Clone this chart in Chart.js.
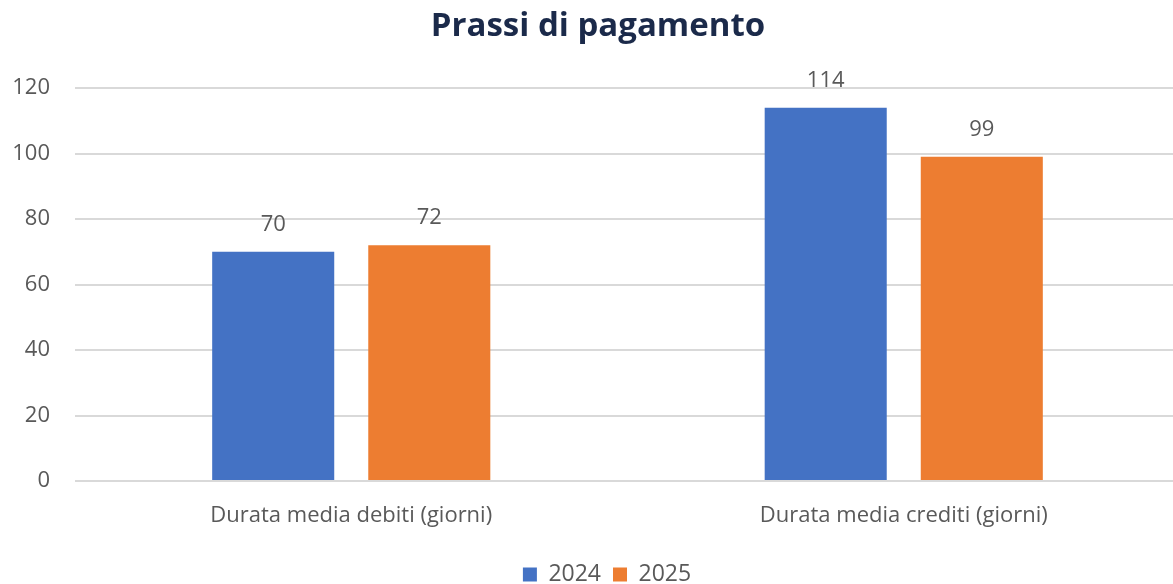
<!DOCTYPE html>
<html>
<head>
<meta charset="utf-8">
<script src="https://cdn.jsdelivr.net/npm/chart.js@4.4.1/dist/chart.umd.min.js"></script>
<style>
  html, body { margin: 0; padding: 0; background: #fff; overflow: hidden; }
  #wrap { width: 1173px; height: 584px; overflow: hidden; }
</style>
</head>
<body>
<div id="wrap"><canvas id="chart"></canvas></div>
<script>
const categories = ['Durata media debiti (giorni)', 'Durata media crediti (giorni)'];
const seriesNames = ['2024', '2025'];
const values2024 = [70, 114];
const values2025 = [72, 99];
const yTicks = [0, 20, 40, 60, 80, 100, 120];

const textGrey = '#595959';

// draws the number above each bar
const valueLabels = {
    id: 'valueLabels',
    afterDatasetsDraw(chart) {
        const ctx = chart.ctx;
        ctx.save();
        ctx.font = '22px "Open Sans"';
        ctx.fillStyle = textGrey;
        ctx.textAlign = 'center';
        ctx.textBaseline = 'bottom';
        chart.data.datasets.forEach((ds, i) => {
            chart.getDatasetMeta(i).data.forEach((bar, j) => {
                ctx.fillText(ds.data[j], bar.x, bar.y - 16);
            });
        });
        ctx.restore();
    }
};

// the original picture is cropped on the right, so title and legend sit a bit right of centre
const shiftBoxes = {
    id: 'shiftBoxes',
    afterLayout(chart) {
        chart.titleBlock.left += 8;
        chart.titleBlock.right += 8;
        chart.legend.left += 17;
        chart.legend.right += 17;
    }
};

const data = {
    labels: categories,
    datasets: [{
        label: seriesNames[0],
        backgroundColor: '#4472C4',
        data: values2024,
    }, {
        label: seriesNames[1],
        backgroundColor: '#ED7D31',
        data: values2025,
    }],
};

const config = {
    type: 'bar',
    data,
    plugins: [valueLabels, shiftBoxes],
    options: {
        responsive: false,
        animation: false,
        datasets: {
            bar: {
                categoryPercentage: 0.565,
                barPercentage: 0.782,
            }
        },
        layout: {
            padding: 0
        },
        plugins: {
            title: {
                display: true,
                text: 'Prassi di pagamento',
                color: '#1B2A4A',
                font: {
                    family: '"Open Sans"',
                    size: 33,
                    weight: 'bold',
                },
                padding: {top: 7, bottom: 41.4},
            },
            legend: {
                display: true,
                position: 'bottom',
                labels: {
                    color: textGrey,
                    font: {family: '"Open Sans"', size: 23},
                    boxWidth: 14,
                    boxHeight: 14,
                    padding: 12,
                },
            },
            tooltip: {enabled: false},
        },
        scales: {
            x: {
                grid: {display: false, drawTicks: false},
                border: {display: false},
                afterFit(axis) {
                    axis.height = 70;
                },
                ticks: {
                    color: textGrey,
                    font: {family: '"Open Sans"', size: 22},
                    padding: 22,
                },
            },
            y: {
                min: 0,
                max: 120,
                afterBuildTicks(axis) {
                    axis.ticks = yTicks.map(v => ({value: v}));
                },
                afterFit(axis) {
                    axis.width = 75;
                },
                border: {display: false},
                grid: {
                    color: '#D9D9D9',
                    lineWidth: 2,
                    drawTicks: false,
                },
                ticks: {
                    color: textGrey,
                    font: {family: '"Open Sans"', size: 22},
                    padding: 25,
                },
            }
        },
    }
};

const canvas = document.getElementById('chart');
canvas.width = 1180;
canvas.height = 596;
const chart = new Chart(canvas, config);
</script>
</body>
</html>
